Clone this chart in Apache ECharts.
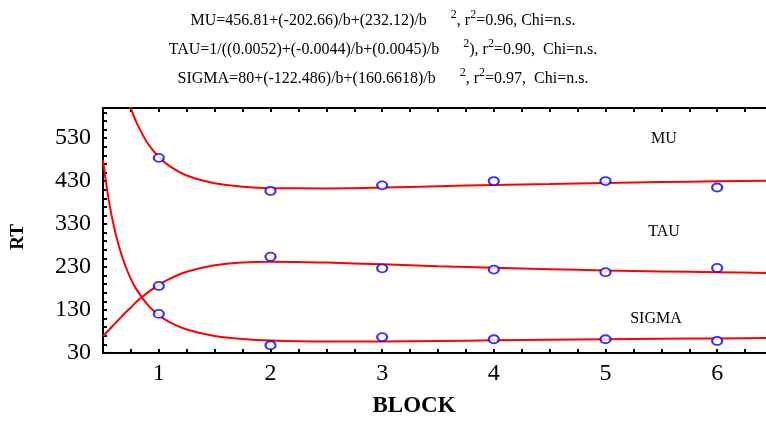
<!DOCTYPE html>
<html>
<head>
<meta charset="utf-8">
<script src="https://cdn.jsdelivr.net/npm/echarts@6/dist/echarts.min.js"></script>
<style>
  html, body { margin: 0; padding: 0; background: #fff; }
  #chart { width: 766px; height: 421px; }
</style>
</head>
<body>
<div id="chart"></div>
<script>
// observed points (BLOCK 1..6)
const blocks = [1, 2, 3, 4, 5, 6];
const muPoints = [484, 407, 420, 430, 430, 415];
const tauPoints = [186, 254, 227, 224, 218, 228];
const sigmaPoints = [121, 48, 67, 62, 62, 58];

// fitted curves
const curveX = [0.5, 0.55, 0.6, 0.65, 0.7, 0.75, 0.8, 0.9, 1, 1.1, 1.25, 1.5, 1.75, 2, 2.5, 3, 3.5, 4, 4.5, 5, 5.5, 6, 6.5];
const muCurve = [979, 856, 764, 694, 641, 599, 566, 518, 486, 464, 443, 425, 417, 413.5, 413, 415, 418, 421, 423, 425.6, 427.6, 429.5, 431];
const tauCurve = [69, 83, 96.5, 110, 123.5, 136, 149, 170.5, 188.7, 203, 219, 234, 240.7, 242.4, 240.4, 236.2, 232, 228.3, 225, 222.2, 219.8, 217.8, 216];
const sigmaCurve = [478, 388, 322, 272, 233, 202, 178, 142, 118, 101.4, 84.8, 69.7, 62.5, 58.9, 56.7, 57, 58.1, 59.4, 60.7, 61.9, 63, 64, 65];

const yTicks = [30, 130, 230, 330, 430, 530];
const xTicks = [1, 2, 3, 4, 5, 6];

const titleLines = [
    ['MU=456.81+(-202.66)/b+(232.12)/b', ', r', '=0.96, Chi=n.s.'],
    ['TAU=1/((0.0052)+(-0.0044)/b+(0.0045)/b', '), r', '=0.90,  Chi=n.s.'],
    ['SIGMA=80+(-122.486)/b+(160.6618)/b', ', r', '=0.97,  Chi=n.s.'],
];
const curveNames = ['MU', 'TAU', 'SIGMA'];

const serif = '"Liberation Serif", "Times New Roman", serif';
const chart = echarts.init(document.getElementById('chart'));

const pairs = (xs, ys) => xs.map((x, i) => [x, ys[i]]);

const curve = (vals) => ({
    type: 'line',
    data: pairs(curveX, vals),
    showSymbol: false,
    smooth: 0.3,
    clip: true,
    lineStyle: { color: '#ff0000', width: 2 },
    silent: true,
    z: 2,
});

const dots = (vals) => ({
    type: 'scatter',
    data: pairs(blocks, vals),
    symbol: 'emptyCircle',
    symbolSize: [10, 8],
    itemStyle: { color: '#0000ff', borderColor: '#0000ff', borderWidth: 2 },
    z: 3,
});

const titleText = (l) =>
    '{n|' + l[0] + '}{g|}{s|2}{n|' + l[1] + '}{s|2}{n|' + l[2] + '}';

const textRich = {
    n: { fontFamily: serif, fontSize: 16, lineHeight: 20, verticalAlign: 'bottom', fill: '#000' },
    s: { fontFamily: serif, fontSize: 12, lineHeight: 20, verticalAlign: 'top', fill: '#000' },
    g: { width: 24, lineHeight: 20 },
};

const axisLine = { show: true, lineStyle: { color: '#000', width: 2 } };
const tick = { show: true, inside: true, length: 4, lineStyle: { color: '#000', width: 2 } };

chart.setOption({
    animation: false,
    backgroundColor: '#fff',
    grid: { left: 103, right: -7, top: 108, bottom: 68, outerBoundsMode: 'none', containLabel: false },
    xAxis: [
        {
            type: 'value', min: 0.5, max: 6.5, interval: 0.25,
            axisLine, axisTick: tick, splitLine: { show: false },
            axisLabel: {
                margin: 9, color: '#000', fontFamily: serif, fontSize: 24,
                formatter: (v) => (xTicks.includes(v) ? String(v) : ''),
            },
        },
        {
            type: 'value', position: 'top', min: 0.5, max: 6.5, interval: 0.25,
            axisLine, axisTick: tick, splitLine: { show: false },
            axisLabel: { show: false },
        },
    ],
    yAxis: {
        type: 'value', min: 30, max: 600, interval: 20,
        axisLine, axisTick: tick, splitLine: { show: false },
        axisLabel: {
            margin: 12, color: '#000', fontFamily: serif, fontSize: 24,
            showMaxLabel: false,
            formatter: (v) => (yTicks.includes(v) ? String(v) : ''),
        },
    },
    graphic: [
        ...titleLines.map((l, i) => ({
            type: 'text', left: 'center', top: 9 + i * 29,
            style: { text: titleText(l), rich: textRich, fill: '#000' },
        })),
        { type: 'text', x: 664, y: 139, style: { text: curveNames[0], font: '16px ' + serif, fill: '#000', textAlign: 'center', textVerticalAlign: 'middle' } },
        { type: 'text', x: 664, y: 232, style: { text: curveNames[1], font: '16px ' + serif, fill: '#000', textAlign: 'center', textVerticalAlign: 'middle' } },
        { type: 'text', x: 656, y: 319, style: { text: curveNames[2], font: '16px ' + serif, fill: '#000', textAlign: 'center', textVerticalAlign: 'middle' } },
        { type: 'text', x: 414, y: 406, style: { text: 'BLOCK', font: 'bold 23px ' + serif, fill: '#000', textAlign: 'center', textVerticalAlign: 'middle' } },
        { type: 'text', x: 18, y: 237, rotation: Math.PI / 2, style: { text: 'RT', font: 'bold 19px ' + serif, fill: '#000', textAlign: 'center', textVerticalAlign: 'middle' } },
    ],
    series: [
        curve(muCurve), curve(tauCurve), curve(sigmaCurve),
        dots(muPoints), dots(tauPoints), dots(sigmaPoints),
    ],
});
</script>
</body>
</html>
